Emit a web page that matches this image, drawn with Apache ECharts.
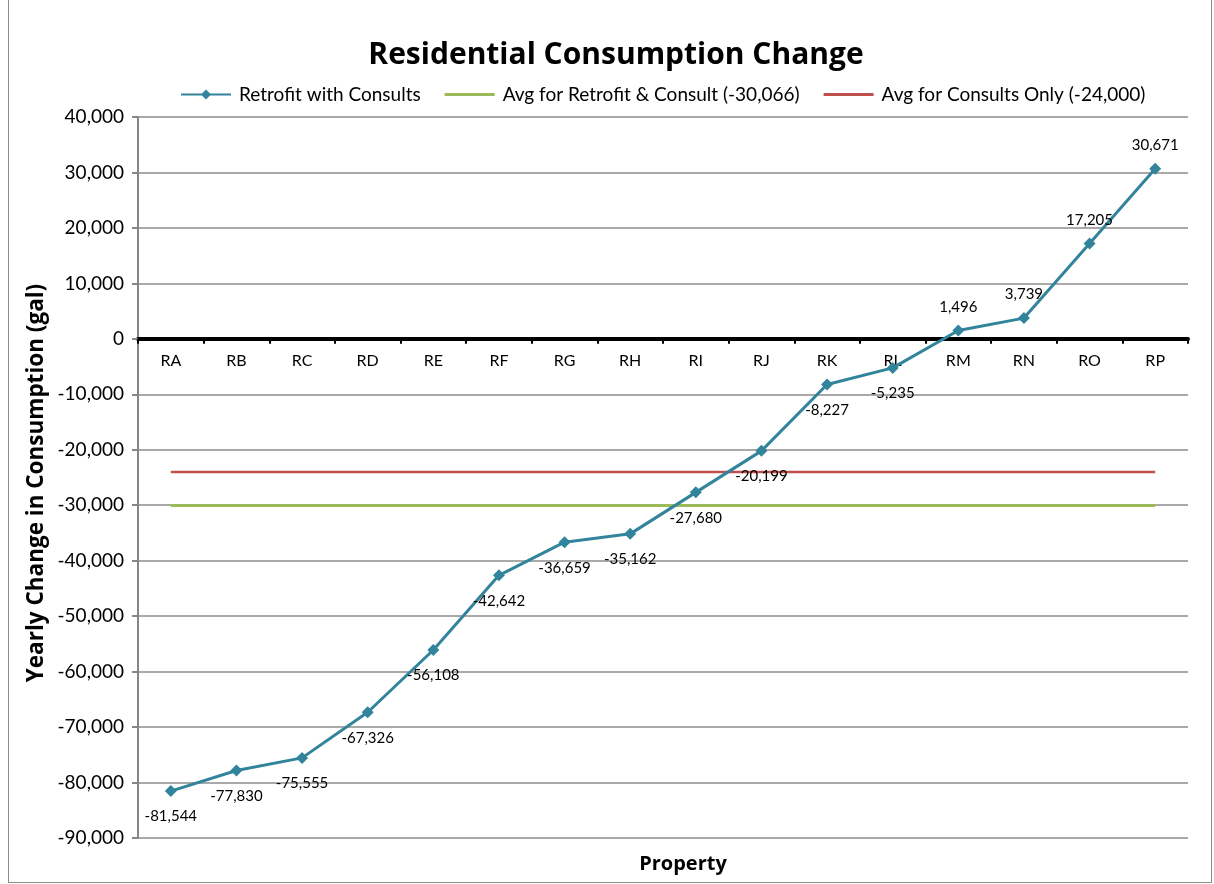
<!DOCTYPE html>
<html>
<head>
<meta charset="utf-8">
<script src="https://cdn.jsdelivr.net/npm/echarts@6/dist/echarts.min.js"></script>
<style>
html,body{margin:0;padding:0;background:#fff;}
#frame{position:absolute;left:8px;top:0;width:1204px;height:883px;border:1px solid #8c8c8c;border-top:none;box-sizing:border-box;}
#chart{position:absolute;left:0;top:0;width:1214px;height:884px;}
</style>
</head>
<body>
<div id="frame"></div>
<div id="chart"></div>
<script>
const categories = ['RA','RB','RC','RD','RE','RF','RG','RH','RI','RJ','RK','RL','RM','RN','RO','RP'];
const retrofitWithConsults = [-81544,-77830,-75555,-67326,-56108,-42642,-36659,-35162,-27680,-20199,-8227,-5235,1496,3739,17205,30671];
const avgRetrofitConsult = [-30066,-30066,-30066,-30066,-30066,-30066,-30066,-30066,-30066,-30066,-30066,-30066,-30066,-30066,-30066,-30066];
const avgConsultsOnly = [-24000,-24000,-24000,-24000,-24000,-24000,-24000,-24000,-24000,-24000,-24000,-24000,-24000,-24000,-24000,-24000];
const seriesNames = ['Retrofit with Consults','Avg for Retrofit & Consult (-30,066)','Avg for Consults Only (-24,000)'];

const FONT = 'Lato, "Open Sans", sans-serif';
const BOLD = '"Open Sans", Lato, sans-serif';
const chart = echarts.init(document.getElementById('chart'), null, {renderer:'canvas'});
const fmt = v => v.toLocaleString('en-US');

const GRID_TOP = 117, GRID_BOTTOM_PX = 838;
const yMin = -90000, yMax = 40000;
const zeroPx = GRID_TOP + (yMax - 0) / (yMax - yMin) * (GRID_BOTTOM_PX - GRID_TOP);

chart.setOption({
  animation:false,
  textStyle:{fontFamily:FONT},
  title:{text:'Residential Consumption Change',left:611,textAlign:'center',top:35,
    textStyle:{fontFamily:BOLD,fontSize:30,fontWeight:'bold',color:'#000'}},
  legend:{top:80,left:176,itemGap:24,itemWidth:50,itemHeight:12,
    textStyle:{fontFamily:FONT,fontSize:19,color:'#000',padding:[0,0,0,3]},
    data:[{name:seriesNames[0],icon:'path://M0,5 L21,5 L25,1 L29,5 L50,5 L50,7 L29,7 L25,11 L21,7 L0,7 Z',itemStyle:{color:'#31849B'}},
          {name:seriesNames[1],icon:'path://M0,4.5 L50,4.5 L50,7.5 L0,7.5 Z',itemStyle:{color:'#9BBB59'}},
          {name:seriesNames[2],icon:'path://M0,4.5 L50,4.5 L50,7.5 L0,7.5 Z',itemStyle:{color:'#C0504D'}}]},
  grid:{left:138,right:26,top:GRID_TOP,bottom:884-GRID_BOTTOM_PX,containLabel:false},
  xAxis:{type:'category',data:categories,boundaryGap:true,position:'bottom',
    offset:-(GRID_BOTTOM_PX - zeroPx),
    axisLine:{onZero:false,lineStyle:{color:'#000',width:4}},
    axisTick:{show:true,length:5,lineStyle:{color:'#000',width:2}},
    axisLabel:{fontFamily:FONT,fontSize:16,color:'#000',margin:14},
    splitLine:{show:false}},
  yAxis:{type:'value',min:yMin,max:yMax,interval:10000,
    axisLine:{show:true,lineStyle:{color:'#868686',width:2}},
    axisTick:{show:true,length:6,lineStyle:{color:'#868686',width:2}},
    axisLabel:{fontFamily:FONT,fontSize:19,color:'#000',margin:14,formatter:v=>fmt(v)},
    splitLine:{show:true,lineStyle:{color:'#8c8c8c',width:1.5}}},
  graphic:[
    {type:'text',x:683,y:864,style:{text:'Property',textAlign:'center',textVerticalAlign:'middle',font:'bold 20px '+BOLD,fill:'#000'}},
    {type:'text',rotation:Math.PI/2,x:37,y:483,style:{text:'Yearly Change in Consumption (gal)',textAlign:'center',textVerticalAlign:'middle',font:'bold 22.5px '+BOLD,fill:'#000'}}
  ],
  series:[
    {name:seriesNames[1],type:'line',data:avgRetrofitConsult,symbol:'none',z:2,
      lineStyle:{color:'#9BBB59',width:3},itemStyle:{color:'#9BBB59'}},
    {name:seriesNames[2],type:'line',data:avgConsultsOnly,symbol:'none',z:2,
      lineStyle:{color:'#C0504D',width:2.5},itemStyle:{color:'#C0504D'}},
    {name:seriesNames[0],type:'line',z:5,
      data: retrofitWithConsults.map(v=>({value:v,label:{position: v>=0?'top':'bottom',distance:v>=0?10:12}})),
      symbol:'diamond',symbolSize:12,
      lineStyle:{color:'#31849B',width:3},itemStyle:{color:'#31849B'},
      label:{show:true,fontFamily:FONT,fontSize:15,color:'#000',
        formatter:p=>fmt(p.value)}}
  ]
});
</script>
</body>
</html>
